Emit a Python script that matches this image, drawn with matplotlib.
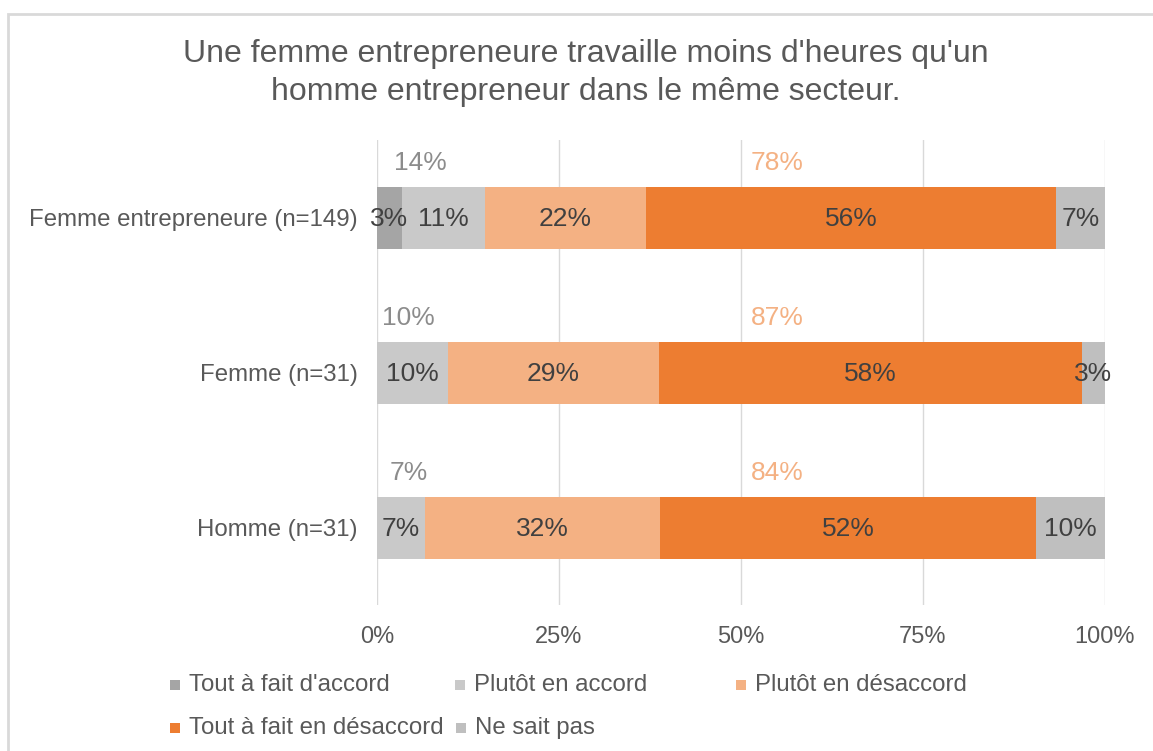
import matplotlib
matplotlib.use('Agg')
import matplotlib.pyplot as plt
from matplotlib.patches import Rectangle
import numpy as np

plt.rcParams['font.family'] = ['Liberation Sans', 'DejaVu Sans']

# données (en %)
categories = ['Femme entrepreneure (n=149)', 'Femme (n=31)', 'Homme (n=31)']
series_names = ["Tout à fait d'accord", 'Plutôt en accord', 'Plutôt en désaccord',
                'Tout à fait en désaccord', 'Ne sait pas']
tout_accord = [3.4, 0.0, 0.0]
plutot_accord = [11.4, 9.7, 6.6]
plutot_desaccord = [22.1, 29.0, 32.3]
tout_desaccord = [56.4, 58.1, 51.6]
ne_sait_pas = [6.7, 3.2, 9.5]
colors = ['#A5A5A5', '#C9C9C9', '#F4B183', '#ED7D31', '#BFBFBF']

series = [tout_accord, plutot_accord, plutot_desaccord, tout_desaccord, ne_sait_pas]

fig = plt.figure(figsize=(11.53, 7.51), dpi=100)
ax = fig.add_axes([377 / 1153, 1 - 605 / 751, 728 / 1153, 465 / 751])

y = np.arange(len(categories))
left = np.zeros(len(categories))
for vals, col, name in zip(series, colors, series_names):
    vals = np.array(vals)
    ax.barh(y, vals, left=left, height=0.4, color=col, label=name, zorder=3)
    for i, v in enumerate(vals):
        if v > 0:
            ax.text(left[i] + v / 2, y[i] + 0.01, '{:.0f}%'.format(v), ha='center', va='center',
                    fontsize=19, color='#404040', zorder=4)
    left = left + vals

# totaux accord / désaccord au-dessus des barres
for i in range(len(categories)):
    acc = round(tout_accord[i]) + round(plutot_accord[i])
    des = round(plutot_desaccord[i]) + round(tout_desaccord[i])
    ax.text(max(4.3, (tout_accord[i] + plutot_accord[i]) * 0.4), y[i] - 0.35, '{}%'.format(acc),
            ha='center', va='center', fontsize=19, color='#8C8C8C')
    ax.text(55, y[i] - 0.35, '{}%'.format(des), ha='center', va='center',
            fontsize=19, color='#F4B183')

ax.set_xlim(0, 100)
ax.set_ylim(2.5, -0.5)
ax.set_xticks([0, 25, 50, 75, 100])
ax.set_xticklabels(['0%', '25%', '50%', '75%', '100%'])
ax.set_yticks(y)
ax.set_yticklabels(categories)
ax.tick_params(axis='x', length=0, labelsize=17, labelcolor='#595959', pad=15)
ax.tick_params(axis='y', length=0, labelsize=17.3, labelcolor='#595959', pad=14)
ax.grid(axis='x', color='#D9D9D9', linewidth=1, zorder=0)
for s in ax.spines.values():
    s.set_visible(False)

# titre
fig.text(586 / 1153, 1 - 73 / 751,
         "Une femme entrepreneure travaille moins d'heures qu'un\nhomme entrepreneur dans le même secteur.",
         ha='center', va='center', fontsize=23, color='#595959', linespacing=1.32)

# légende
leg_pos = [(170, 685), (455, 685), (736, 685), (170, 728), (456, 728)]
for (px, py), name, col in zip(leg_pos, series_names, colors):
    fig.patches.append(Rectangle((px / 1153, 1 - (py + 5) / 751), 10 / 1153, 10 / 751,
                                 transform=fig.transFigure, facecolor=col, edgecolor='none'))
    fig.text((px + 19) / 1153, 1 - py / 751, name, ha='left', va='center',
             fontsize=17.3, color='#595959')

# cadre du graphique
fig.patches.append(Rectangle((8 / 1153, -0.05), 1.1, 1 - 14 / 751 + 0.05,
                             transform=fig.transFigure, facecolor='none',
                             edgecolor='#D9D9D9', linewidth=2))

fig.savefig('out.png', dpi=100)
